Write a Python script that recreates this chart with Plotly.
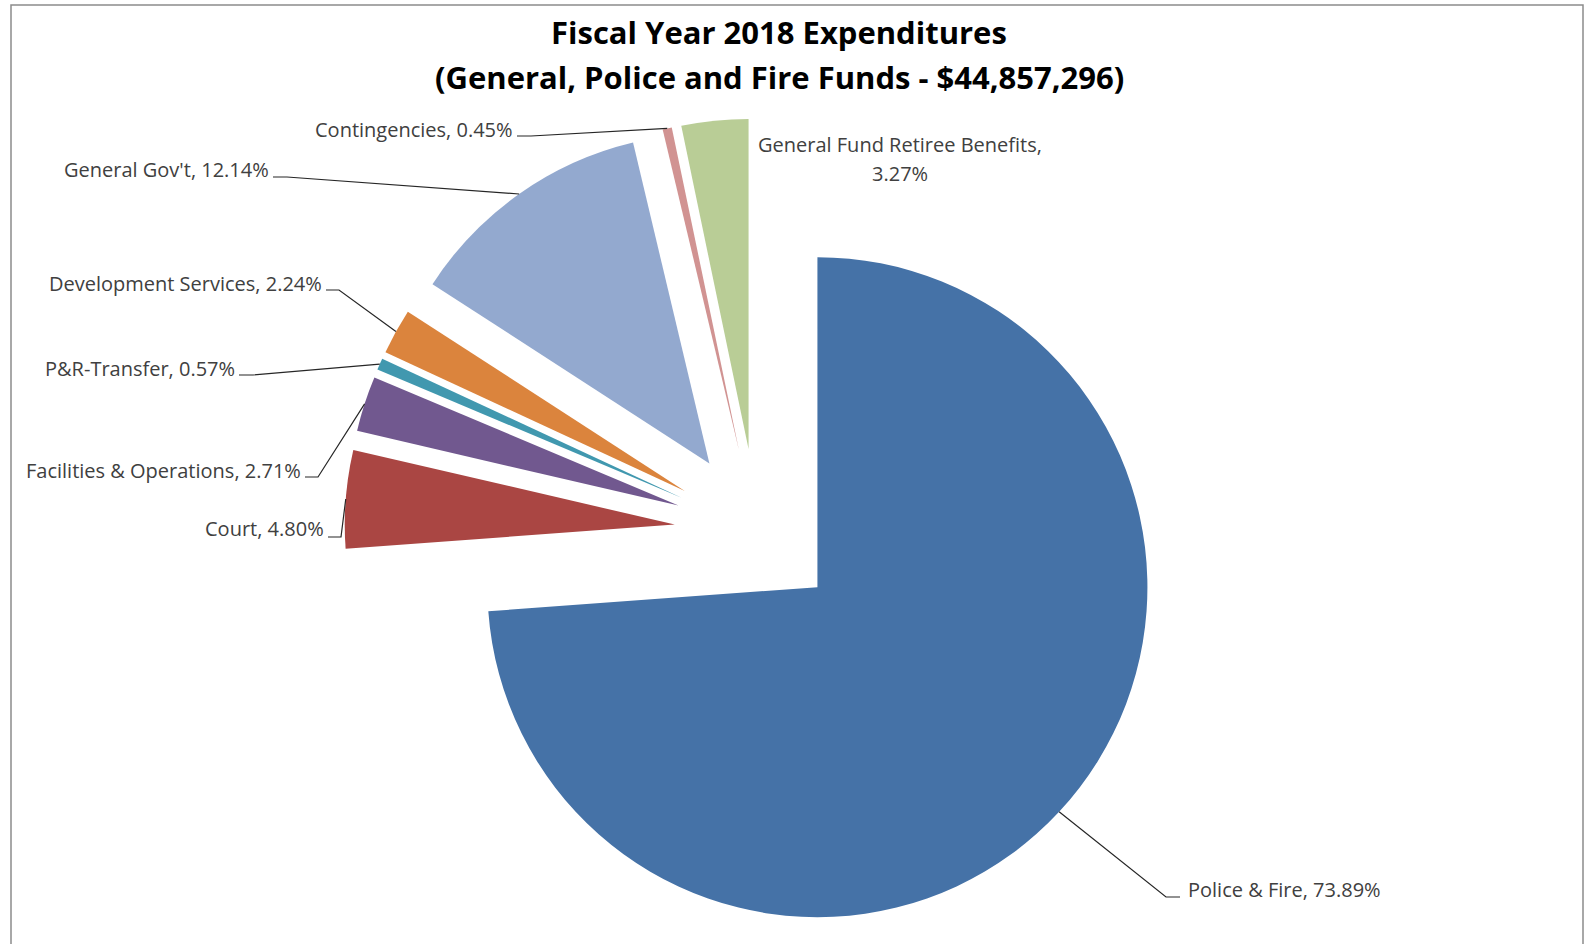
import math
import plotly.graph_objects as go

# ---------------- data ----------------
categories = ["Police & Fire", "Court", "Facilities & Operations", "P&R-Transfer",
              "Development Services", "General Gov't", "Contingencies",
              "General Fund Retiree Benefits"]
percent_values = [73.89, 4.80, 2.71, 0.57, 2.24, 12.14, 0.45, 3.27]
title_line1 = "Fiscal Year 2018 Expenditures"
title_line2 = "(General, Police and Fire Funds - $44,857,296)"

# ---------------- styles / layout ----------------
slice_colors = ["#4572A7", "#AA4643", "#71588F", "#4198AF",
                "#DB843D", "#93A9CF", "#D19392", "#B9CD96"]
W, H = 1585, 944
PIE_CX, PIE_CY, PIE_R, PULL = 757, 531, 330, 0.25
LABEL_FONT = "Open Sans"
LABEL_SIZE = 20
LABEL_COLOR = "#404040"
TITLE_SIZE = 31

# label placement (pixel coords): x, y of text anchor, side, leader line y, elbow start/length
label_pos = {
    "Police & Fire": dict(x=1186, y=889, side="left", ly=897, lx=1180, elbow=14),
    "Court": dict(x=326, y=528, side="right", ly=537, lx=328, elbow=13),
    "Facilities & Operations": dict(x=303, y=470, side="right", ly=477, lx=305, elbow=13),
    "P&R-Transfer": dict(x=237, y=368, side="right", ly=375, lx=239, elbow=14),
    "Development Services": dict(x=324, y=283, side="right", ly=290, lx=326, elbow=13),
    "General Gov't": dict(x=271, y=170, side="right", ly=177, lx=273, elbow=14),
    "Contingencies": dict(x=515, y=130, side="right", ly=136, lx=517, elbow=14),
    "General Fund Retiree Benefits": dict(x=900, y=145, side="center", ly=173, lx=None, elbow=0),
}


def px(x):
    return x / W


def py(y):
    return 1 - y / H


half = PIE_R * (1 + PULL)
domain_x = [(PIE_CX - half) / W, (PIE_CX + half) / W]
domain_y = [max(0.0, 1 - (PIE_CY + half) / H), 1 - (PIE_CY - half) / H]

fig = go.Figure()
fig.add_trace(go.Pie(
    labels=categories,
    values=percent_values,
    sort=False,
    direction="clockwise",
    rotation=0,
    pull=[PULL] * len(categories),
    marker=dict(colors=slice_colors, line=dict(width=0)),
    textinfo="none",
    hoverinfo="label+percent",
    domain=dict(x=domain_x, y=domain_y),
    showlegend=False,
))

# compute attach points of leader lines from data (mid-angle of outer arc)
total = sum(percent_values)
annotations = []
shapes = []
cum = 0.0
label_font = dict(family=LABEL_FONT, size=LABEL_SIZE, color=LABEL_COLOR)
for cat, val in zip(categories, percent_values):
    mid = (cum + val / 2) / total * 2 * math.pi
    cum += val
    ux, uy = math.sin(mid), -math.cos(mid)
    cx = PIE_CX + PULL * PIE_R * ux
    cy = PIE_CY + PULL * PIE_R * uy
    ax_, ay_ = cx + PIE_R * ux, cy + PIE_R * uy
    lp = label_pos[cat]
    if lp["side"] == "center":
        annotations.append(dict(x=px(lp["x"]), y=py(lp["y"]), xref="paper", yref="paper",
                                text=f"{cat},", showarrow=False, xanchor="center",
                                yanchor="middle", font=label_font))
        annotations.append(dict(x=px(lp["x"]), y=py(lp["ly"]), xref="paper", yref="paper",
                                text=f"{val:.2f}%", showarrow=False, xanchor="center",
                                yanchor="middle", font=label_font))
        continue
    text = f"{cat}, {val:.2f}%"
    x0 = lp["lx"]
    if lp["side"] == "right":
        annotations.append(dict(x=px(lp["x"]), y=py(lp["y"]), xref="paper", yref="paper",
                                text=text, showarrow=False, xanchor="right", yanchor="middle",
                                font=label_font))
        x1 = x0 + lp["elbow"]
    else:
        annotations.append(dict(x=px(lp["x"]), y=py(lp["y"]), xref="paper", yref="paper",
                                text=text, showarrow=False, xanchor="left", yanchor="middle",
                                font=label_font))
        x1 = x0 - lp["elbow"]
    path = (f"M {px(x0):.5f},{py(lp['ly']):.5f} L {px(x1):.5f},{py(lp['ly']):.5f} "
            f"L {px(ax_):.5f},{py(ay_):.5f}")
    shapes.append(dict(type="path", path=path, xref="paper", yref="paper",
                       line=dict(color="#262626", width=1.2)))

# title
title_font = dict(family=LABEL_FONT, size=TITLE_SIZE, color="#000000")
annotations.append(dict(x=px(779), y=py(32), xref="paper", yref="paper", text=f"<b>{title_line1}</b>",
                        showarrow=False, xanchor="center", yanchor="middle", font=title_font))
annotations.append(dict(x=px(779), y=py(77), xref="paper", yref="paper", text=f"<b>{title_line2}</b>",
                        showarrow=False, xanchor="center", yanchor="middle", font=title_font))

# chart frame
shapes.append(dict(type="rect", xref="paper", yref="paper",
                   x0=px(11), y0=-0.1, x1=px(1583), y1=py(5),
                   line=dict(color="#8c8c8c", width=1.5), layer="below"))

fig.update_layout(
    width=W, height=H,
    margin=dict(l=0, r=0, t=0, b=0),
    paper_bgcolor="white",
    plot_bgcolor="white",
    showlegend=False,
    annotations=annotations,
    shapes=shapes,
)

fig.write_html("out.html", config={"displayModeBar": False},
               post_script="document.body.style.margin='0';document.body.style.overflow='hidden';")
